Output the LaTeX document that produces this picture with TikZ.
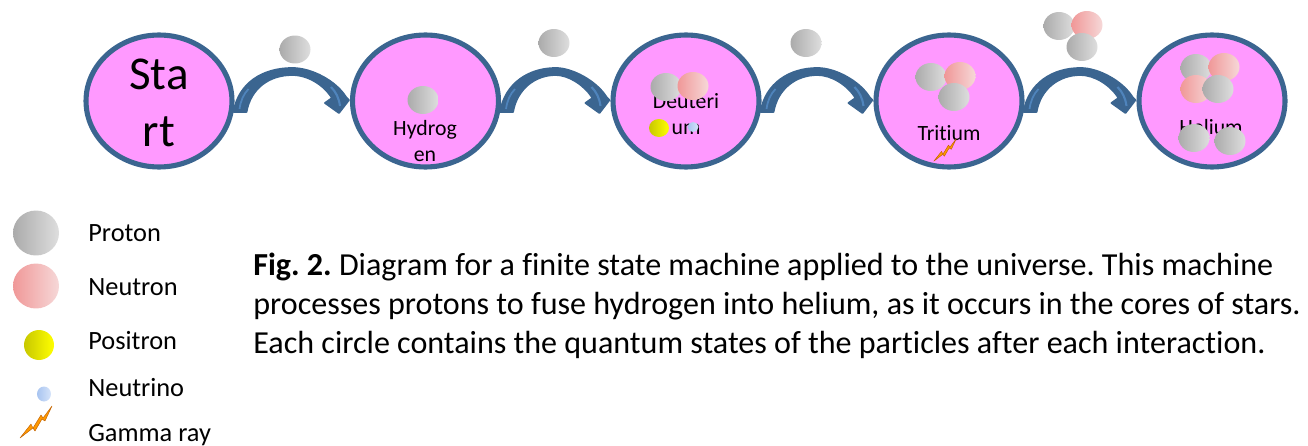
\documentclass[tikz,border=0pt]{standalone}
\usepackage{fontspec}
\setmainfont{Carlito}[Ligatures=NoCommon]
\usetikzlibrary{shapes.geometric,calc}
\definecolor{ringblue}{HTML}{3B6590}
\definecolor{streakblue}{HTML}{4F84BC}
\definecolor{statepink}{HTML}{FF99FF}
\tikzset{
	state/.style={draw=ringblue, line width=2.9pt, fill=statepink, ellipse, inner sep=0pt, minimum width=2.92cm, minimum height=2.64cm},
	proton/.style={ellipse, inner sep=0pt, minimum width=0.62cm, minimum height=0.56cm, left color={rgb,255:red,171;green,171;blue,171}, right color={rgb,255:red,222;green,222;blue,222}},
	neutron/.style={ellipse, inner sep=0pt, minimum width=0.62cm, minimum height=0.56cm, left color={rgb,255:red,240;green,152;blue,152}, right color={rgb,255:red,246;green,216;blue,216}},
	positron/.style={ellipse, inner sep=0pt, minimum width=0.4cm, minimum height=0.36cm, left color={rgb,255:red,200;green,200;blue,0}, right color=yellow},
	neutrino/.style={ellipse, inner sep=0pt, minimum width=0.22cm, minimum height=0.2cm, left color={rgb,255:red,168;green,196;blue,240}, right color={rgb,255:red,214;green,228;blue,250}},
	bigdot/.style={minimum width=0.92cm, minimum height=0.9cm},
	bentarrow/.style={draw=ringblue, line width=1pt, fill=ringblue, line join=round},
	legendtext/.style={anchor=west, font=\fontsize{15pt}{18pt}\selectfont, inner sep=0pt},
	statetext/.style={font=\fontsize{12.4pt}{14.8pt}\selectfont, align=center, inner sep=0pt},
	pics/gammabolt/.style={code={
		\path[fill=orange!80!yellow, draw=orange!75!black, line width=0.25pt, line join=round]
			(-16,16) -- (-5,2) -- (-3,6) -- (5,-7) -- (7,-4) -- (16,-16) -- (9,-1) -- (6,-3) -- (-1,9) -- (-3,6) -- cycle;
	}}
}
\newcommand{\curvedlink}[2]{
	\draw[bentarrow] ($(#1.east)+(-1,11)$)
		.. controls ($(#1.east)+(4,-18)$) and ($(#1.east)+(28,-33)$) .. ($(#1.east)!0.5!(#2.west)+(0,-33)$)
		.. controls ($(#2.west)+(-38,-33)$) and ($(#2.west)+(-14,-20)$) .. ($(#2.west)+(-4,-4)$)
		-- ($(#2.west)+(-1,-1)$) -- ($(#2.west)+(-11,12)$) -- ($(#2.west)+(-25,2)$) -- ($(#2.west)+(-18,-3)$)
		.. controls ($(#2.west)+(-26,-16)$) and ($(#2.west)+(-42,-26)$) .. ($(#1.east)!0.5!(#2.west)+(0,-26)$)
		.. controls ($(#1.east)+(34,-26)$) and ($(#1.east)+(16,-12)$) .. ($(#1.east)+(12,11)$) -- cycle;
	\draw[streakblue, line width=1.2pt] ($(#2.west)+(-19,-14)$) .. controls ($(#2.west)+(-14,-9)$) and ($(#2.west)+(-11,-3)$) .. ($(#2.west)+(-10,5)$);
	\draw[streakblue, line width=1pt] ($(#1.east)+(5,8)$) .. controls ($(#1.east)+(6,0)$) and ($(#1.east)+(9,-7)$) .. ($(#1.east)+(14,-12)$);
}
\begin{document}
\frenchspacing
\begin{tikzpicture}[x=0.02cm, y=-0.02cm]
	\useasboundingbox (0,0) rectangle (1308,446);
	% states
	\node[state] at (159,101) (s1) {};
	\node[state] at (425.5,101) (s2) {};
	\node[state] at (686,101) (s3) {};
	\node[state] at (949,101) (s4) {};
	\node[state] at (1212,101) (s5) {};
	\curvedlink{s1}{s2}
	\curvedlink{s2}{s3}
	\curvedlink{s3}{s4}
	\curvedlink{s4}{s5}
	\node[inner sep=0pt, align=center, font=\fontsize{26.8pt}{32.3pt}\selectfont] at (159,103) (t1) {Sta\\rt};
	\node[statetext] at (425,141) (t2) {Hydrog\\en};
	\node[statetext] at (686,114) (t3) {Deuteri\\um};
	\node[statetext] at (949,133) (t4) {Tritium};
	\node[statetext] at (1211,127) (t5) {Helium};
	% particles on the way in
	\node[proton] at (295,49.5) (a1) {};
	\node[proton] at (554,43) (a2) {};
	\node[proton] at (806,43) (a3) {};
	\node[proton] at (1059,26) (a4) {};
	\node[neutron] at (1087,25) (a5) {};
	\node[proton] at (1082,47) (a6) {};
	% particles inside the states
	\node[proton] at (423,100) (h1) {};
	\node[proton] at (666,87) (d1) {};
	\node[neutron] at (693,86) (d2) {};
	\node[positron] at (659,128) (d3) {};
	\node[neutrino] at (693,127) (d4) {};
	\node[proton] at (931,77) (r1) {};
	\node[neutron] at (960,76) (r2) {};
	\node[proton] at (954,97) (r3) {};
	\pic[scale=0.7] at (945,150) {gammabolt};
	\node[proton] at (1196,68) (e1) {};
	\node[neutron] at (1224,67) (e2) {};
	\node[neutron] at (1196,89) (e3) {};
	\node[proton] at (1218,89) (e4) {};
	\node[proton] at (1194,138) (e5) {};
	\node[proton] at (1230,141) (e6) {};
	% key
	\node[proton, bigdot] at (36,233) (k1) {};
	\node[neutron, bigdot] at (36,286) (k2) {};
	\node[positron, minimum width=0.6cm, minimum height=0.6cm] at (39,345) (k3) {};
	\node[neutrino, minimum width=0.28cm, minimum height=0.3cm] at (44,394) (k4) {};
	\pic at (36,422) {gammabolt};
	\node[legendtext] at (88,233.5) (l1) {Proton};
	\node[legendtext] at (88,287) (l2) {Neutron};
	\node[legendtext] at (88,341) (l3) {Positron};
	\node[legendtext] at (88,388) (l4) {Neutrino};
	\node[legendtext] at (88,435) (l5) {Gamma ray};
	\node[anchor=west, align=left, inner sep=0pt, font=\fontsize{18.25pt}{22.2pt}\selectfont] at (253,305.5) (cap) {\textbf{Fig. 2.} Diagram for a finite state machine applied to the universe. This machine\\processes protons to fuse hydrogen into helium, as it occurs in the cores of stars.\\Each circle contains the quantum states of the particles after each interaction.};
\end{tikzpicture}
\end{document}
